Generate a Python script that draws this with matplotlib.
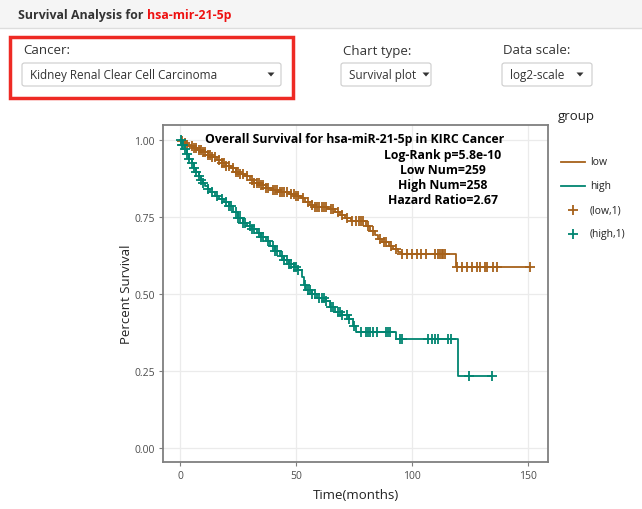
import numpy as np
import matplotlib
matplotlib.use("Agg")
import matplotlib.pyplot as plt
from matplotlib.patches import Rectangle, FancyBboxPatch, Polygon
from matplotlib.lines import Line2D

# ---------------- data ----------------
low_times = [0, 1, 2, 3, 4, 6, 8, 10, 12, 14, 16, 18, 20, 22, 24, 26, 28, 30, 32, 35, 37, 40, 43, 47,
             50, 52, 54, 56, 57.5, 64, 67, 69, 71, 73.5, 80, 82, 84, 85.5, 87, 90, 92, 94, 95.5, 119]
low_surv = [1.0, 0.996, 0.99, 0.985, 0.98, 0.975, 0.968, 0.96, 0.952, 0.944, 0.935, 0.925, 0.916, 0.908,
            0.898, 0.89, 0.882, 0.872, 0.862, 0.855, 0.845, 0.838, 0.832, 0.826, 0.82, 0.812, 0.8, 0.79,
            0.782, 0.775, 0.768, 0.758, 0.748, 0.738, 0.72, 0.705, 0.692, 0.68, 0.668, 0.656, 0.648, 0.638,
            0.63, 0.588]
low_end = 150.9
low_censor = [1, 2, 3, 5, 6, 7, 8, 9, 10, 11, 12, 13, 14, 15, 17, 18, 19, 20, 21, 23, 24, 25, 26, 27, 29,
              31, 32, 33, 34, 35, 36, 37, 38, 40, 41, 42, 43, 44, 45, 46, 48, 49, 50, 51, 53, 55, 57, 58,
              59, 60, 61, 62, 63, 65, 66, 68, 70, 72, 74, 76, 77, 78, 79, 81, 83, 86, 88, 89, 91, 93,
              95.5, 97.7, 99.8, 102, 104, 106, 109.9, 111.2, 112, 112.9, 113.4, 114.2, 119.3, 121.4,
              123.6, 125.7, 127.9, 129.3, 131.5, 132.2, 134.9, 136.5, 150.9]

high_times = [0, 1, 2, 3, 4, 5, 6, 7, 8, 9, 10, 11, 12, 13, 15, 17, 19, 21, 23, 25, 27, 29, 31, 33, 35,
              37, 39, 41, 43, 45, 47, 49, 51, 52.5, 53.5, 54.5, 57, 59, 63, 64.5, 67, 70, 73, 74.5, 76,
              93, 120]
high_surv = [1.0, 0.985, 0.97, 0.955, 0.94, 0.925, 0.91, 0.895, 0.882, 0.872, 0.862, 0.85, 0.84, 0.83,
             0.818, 0.808, 0.798, 0.786, 0.768, 0.748, 0.732, 0.722, 0.71, 0.698, 0.685, 0.672, 0.655,
             0.64, 0.625, 0.61, 0.598, 0.588, 0.578, 0.555, 0.53, 0.512, 0.5, 0.488, 0.478, 0.458, 0.442,
             0.432, 0.42, 0.395, 0.378, 0.355, 0.235]
high_end = 134.3
high_censor = [0.5, 1, 1.5, 2, 3, 4, 5, 6, 7, 8, 9, 10, 12, 14, 16, 18, 20, 21, 22, 24, 25, 26, 27, 28,
               30, 31, 32, 34, 35, 36, 38, 40, 41, 42, 44, 45, 46, 47, 48, 49, 50, 51, 54, 55, 56, 57,
               58, 60, 61, 62, 63, 65, 66, 68, 69, 70, 72, 73, 75, 78, 80, 81, 82, 83, 85, 89, 89.6,
               90.5, 94.8, 95.5, 107, 108.6, 110, 111, 115.5, 117, 124.6, 134.3]

x_ticks = [0, 50, 100, 150]
y_ticks = [0.00, 0.25, 0.50, 0.75, 1.00]
y_ticklabels = ["0.00", "0.25", "0.50", "0.75", "1.00"]

title_text = "Overall Survival for hsa-miR-21-5p in KIRC Cancer"
stat_lines = ["Log-Rank p=5.8e-10", "Low Num=259", "High Num=258", "Hazard Ratio=2.67"]

low_color = "#A6611A"
high_color = "#018571"

# ---------------- figure ----------------
W, H = 642, 510
fig = plt.figure(figsize=(W / 100, H / 100), dpi=100)
plt.rcParams['font.family'] = ['Open Sans', 'DejaVu Sans']


def fx(x):
    return x / W


def fy(y):
    return 1 - y / H


# header bar
fig.patches.append(Rectangle((0, fy(29)), 1, 29 / H, transform=fig.transFigure,
                             facecolor="#f5f5f5", edgecolor="none", zorder=0))
fig.add_artist(Line2D([0, 1], [fy(29), fy(29)], transform=fig.transFigure, color="#dddddd", lw=1))
t1 = fig.text(fx(18), fy(15), "Survival Analysis for ", fontsize=8.9, fontweight="bold",
              color="#333333", va="center", ha="left")
fig.canvas.draw()
bb = t1.get_window_extent()
fig.text(bb.x1 / W, fy(15), "hsa-mir-21-5p", fontsize=8.9, fontweight="bold",
         color="#ee1111", va="center", ha="left")

# red box
fig.patches.append(Rectangle((fx(10), fy(99)), 283 / W, 61 / H, transform=fig.transFigure,
                             facecolor="none", edgecolor="#ee2a24", lw=2.5, zorder=2))

# labels and dropdowns
fig.text(fx(23), fy(51), "Cancer:", fontsize=9.5, color="#333333", va="center")
fig.text(fx(343), fy(51), "Chart type:", fontsize=9.5, color="#333333", va="center")
fig.text(fx(503), fy(51), "Data scale:", fontsize=9.5, color="#333333", va="center")


def dropdown(x0, x1, text, caret_x):
    fig.patches.append(FancyBboxPatch((fx(x0), fy(87)), (x1 - x0) / W, 23 / H,
                                      boxstyle="round,pad=0,rounding_size=0.004",
                                      transform=fig.transFigure, facecolor="white",
                                      edgecolor="#cccccc", lw=0.8, zorder=1))
    fig.text(fx(x0 + 8), fy(75.5), text, fontsize=8.5, color="#333333", va="center", zorder=3)
    fig.patches.append(Polygon([[fx(caret_x - 3.5), fy(73.5)], [fx(caret_x + 3.5), fy(73.5)],
                                [fx(caret_x), fy(77.5)]], closed=True, transform=fig.transFigure,
                               facecolor="#333333", edgecolor="none", zorder=3))


dropdown(22, 281, "Kidney Renal Clear Cell Carcinoma", 271)
dropdown(341, 431, "Survival plot", 426)
dropdown(502, 592, "log2-scale", 580)

# ---------------- axes ----------------
ax_l, ax_r, ax_t, ax_b = 163, 548, 126, 463
ax = fig.add_axes([fx(ax_l), fy(ax_b), (ax_r - ax_l) / W, (ax_b - ax_t) / H])
ax.set_xlim(-7.3, 158.6)
ax.set_ylim(-0.045, 1.049)
ax.set_xticks(x_ticks)
ax.set_yticks(y_ticks)
ax.set_yticklabels(y_ticklabels)
ax.grid(True, color="#ebebeb", lw=0.9)
ax.set_axisbelow(True)
for s in ax.spines.values():
    s.set_color("#7f7f7f")
    s.set_linewidth(1.3)
ax.tick_params(axis="both", colors="#7f7f7f", length=3, width=0.8, labelsize=7.5,
               labelcolor="#4d4d4d", pad=3)
ax.set_xlabel("Time(months)", fontsize=9.5, color="#222222", labelpad=5)
ax.set_ylabel("Percent Survival", fontsize=9.5, color="#222222", labelpad=1)


def draw_km(times, surv, end, censor, color):
    t = np.array(list(times) + [end])
    s = np.array(list(surv) + [surv[-1]])
    ax.step(t, s, where="post", color=color, lw=1.3, zorder=3)
    c = np.array(censor)
    idx = np.searchsorted(np.array(times), c, side="right") - 1
    cy = np.array(surv)[idx]
    ax.plot(c, cy, linestyle="none", marker="+", markersize=7, mew=1.3, color=color, zorder=4)


draw_km(low_times, low_surv, low_end, low_censor, low_color)
draw_km(high_times, high_surv, high_end, high_censor, high_color)

# annotations
fig.text(fx(355), fy(140), title_text, fontsize=8.8, fontweight="bold", color="black",
         ha="center", va="center")
for i, (line, yy) in enumerate(zip(stat_lines, [155, 171, 186, 201])):
    fig.text(fx(443), fy(yy), line, fontsize=8.8, fontweight="bold", color="black",
             ha="center", va="center")

# legend
fig.text(fx(558), fy(117), "group", fontsize=9.5, color="#222222", va="center")
legend_rows = [("line", low_color, "low", 163), ("line", high_color, "high", 187),
               ("plus", low_color, "(low,1)", 211), ("plus", high_color, "(high,1)", 235)]
for kind, col, lab, yy in legend_rows:
    if kind == "line":
        fig.add_artist(Line2D([fx(561), fx(585)], [fy(yy), fy(yy)], transform=fig.transFigure,
                              color=col, lw=1.3))
    else:
        fig.add_artist(Line2D([fx(573)], [fy(yy)], transform=fig.transFigure, color=col,
                              marker="+", markersize=7, mew=1.3, linestyle="none"))
    fig.text(fx(590), fy(yy), lab, fontsize=7.5, color="#222222", va="center")

fig.savefig("out.png", dpi=100)
